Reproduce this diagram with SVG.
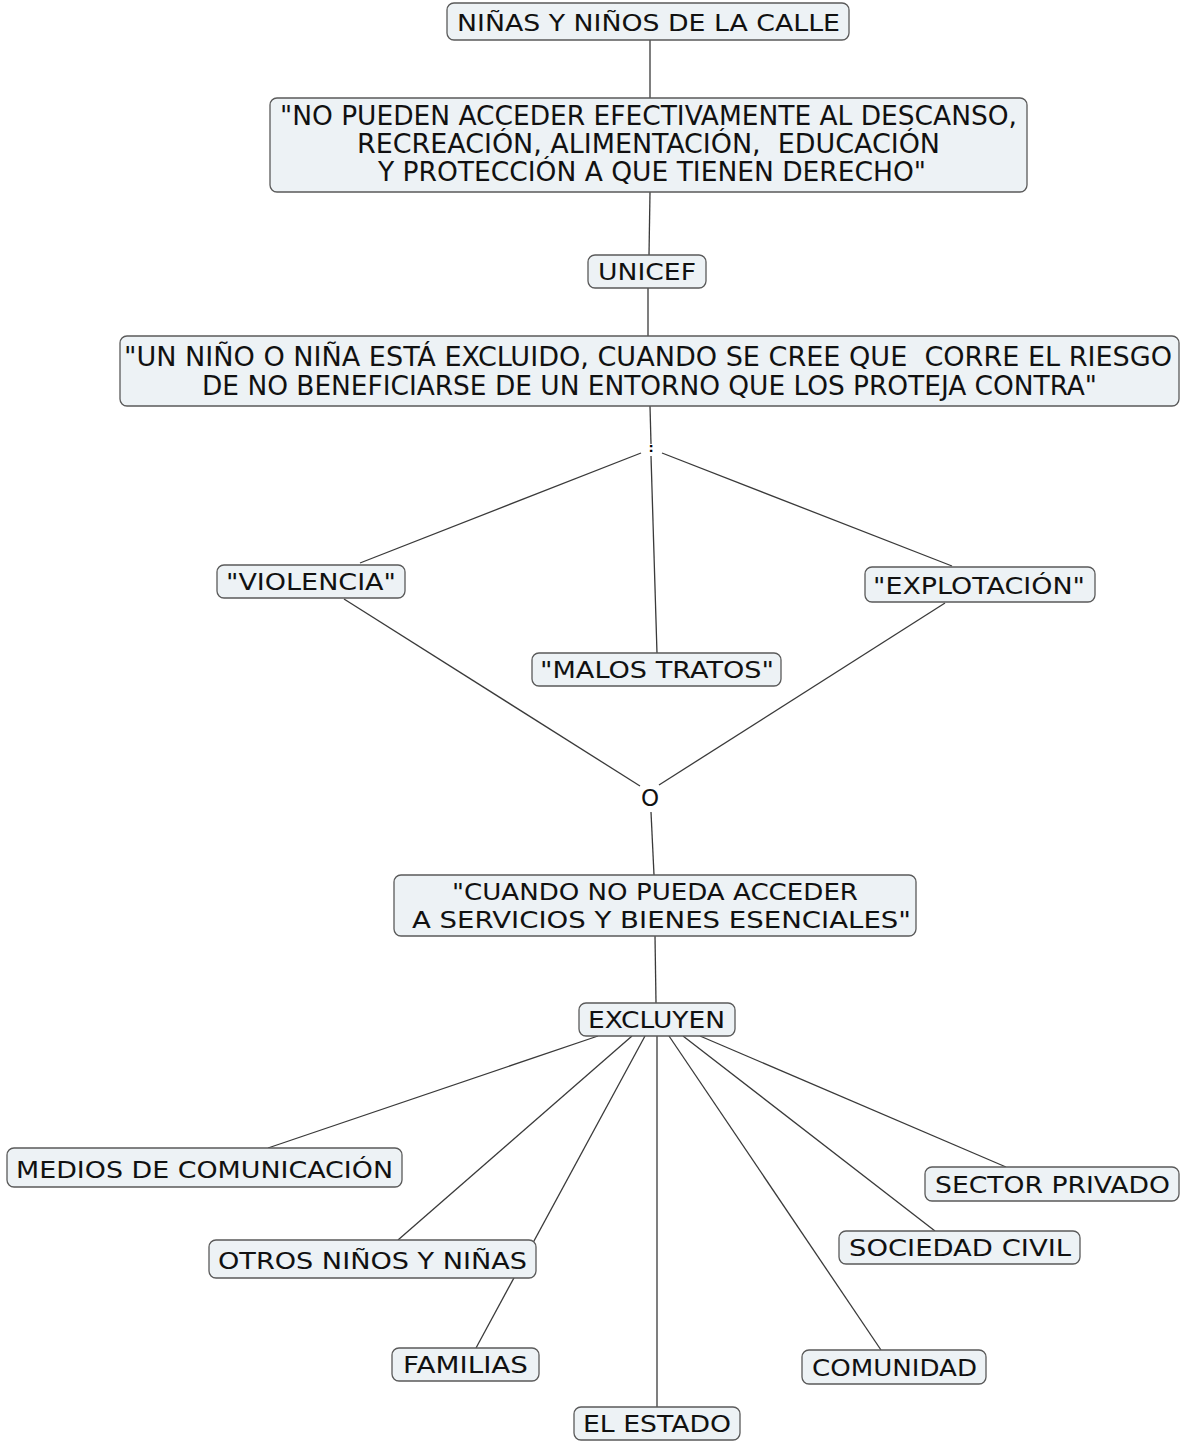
<svg xmlns="http://www.w3.org/2000/svg" width="1180" height="1441" viewBox="0 0 1180 1441">
  <style>
    .box { fill: #edf2f5; stroke: #5a5a5a; stroke-width: 1.3; }
    .t { font-family: "DejaVu Sans", Verdana, sans-serif; font-size: 23px; fill: #111; white-space: pre; }
    .tc { font-family: "DejaVu Sans Condensed", "DejaVu Sans", sans-serif; font-stretch: condensed; font-size: 27px; fill: #111; white-space: pre; }
    .links line { stroke: #3a3a3a; stroke-width: 1.3; }
  </style>

  <!-- connectors -->
  <g id="connectors" class="links">
    <line x1="650" y1="40" x2="650" y2="98"/>
    <line x1="650" y1="192" x2="649" y2="255"/>
    <line x1="648" y1="288" x2="648" y2="336"/>
    <line x1="650" y1="406" x2="651" y2="444"/>
    <line x1="641" y1="453" x2="360" y2="563"/>
    <line x1="662" y1="453" x2="952" y2="566"/>
    <line x1="651" y1="456" x2="657" y2="653"/>
    <line x1="344" y1="599" x2="640" y2="786"/>
    <line x1="945" y1="603" x2="659" y2="785"/>
    <line x1="651" y1="812" x2="654" y2="875"/>
    <line x1="655" y1="936" x2="656" y2="1003"/>
    <line x1="598" y1="1036" x2="268" y2="1148"/>
    <line x1="632" y1="1036" x2="398" y2="1240"/>
    <line x1="645" y1="1036" x2="476" y2="1348"/>
    <line x1="657" y1="1036" x2="657" y2="1407"/>
    <line x1="669" y1="1036" x2="881" y2="1350"/>
    <line x1="683" y1="1036" x2="935" y2="1231"/>
    <line x1="700" y1="1036" x2="1006" y2="1167"/>
  </g>

  <g id="n-ninos-calle">
    <rect class="box" x="447" y="3" width="402" height="37" rx="7"/>
    <text class="t" x="457" y="31" textLength="383" lengthAdjust="spacingAndGlyphs">NIÑAS Y NIÑOS DE LA CALLE</text>
  </g>

  <g id="n-no-pueden">
    <rect class="box" x="270" y="98" width="757" height="94" rx="7"/>
    <text class="tc" x="280" y="125" textLength="737" lengthAdjust="spacingAndGlyphs">"NO PUEDEN ACCEDER EFECTIVAMENTE AL DESCANSO,</text>
    <text class="tc" x="357" y="153" textLength="583" lengthAdjust="spacingAndGlyphs">RECREACIÓN, ALIMENTACIÓN,  EDUCACIÓN</text>
    <text class="tc" x="378" y="181" textLength="548" lengthAdjust="spacingAndGlyphs">Y PROTECCIÓN A QUE TIENEN DERECHO"</text>
  </g>

  <g id="n-unicef">
    <rect class="box" x="588" y="255" width="118" height="33" rx="7"/>
    <text class="t" x="598" y="280" textLength="98" lengthAdjust="spacingAndGlyphs">UNICEF</text>
  </g>

  <g id="n-excluido">
    <rect class="box" x="120" y="336" width="1059" height="70" rx="7"/>
    <text class="tc" x="124" y="366" textLength="1048" lengthAdjust="spacingAndGlyphs">"UN NIÑO O NIÑA ESTÁ EXCLUIDO, CUANDO SE CREE QUE  CORRE EL RIESGO</text>
    <text class="tc" x="202" y="395" textLength="895" lengthAdjust="spacingAndGlyphs">DE NO BENEFICIARSE DE UN ENTORNO QUE LOS PROTEJA CONTRA"</text>
  </g>

  <g id="n-colon">
    <text class="t" x="651" y="452" text-anchor="middle" style="font-size:13px;font-weight:bold;fill:#000">:</text>
  </g>

  <g id="n-violencia">
    <rect class="box" x="217" y="565" width="188" height="33" rx="7"/>
    <text class="t" x="226" y="590" textLength="170" lengthAdjust="spacingAndGlyphs">"VIOLENCIA"</text>
  </g>

  <g id="n-explotacion">
    <rect class="box" x="865" y="567" width="230" height="35" rx="7"/>
    <text class="t" x="873" y="594" textLength="212" lengthAdjust="spacingAndGlyphs">"EXPLOTACIÓN"</text>
  </g>

  <g id="n-malos-tratos">
    <rect class="box" x="532" y="653" width="249" height="33" rx="7"/>
    <text class="t" x="540" y="678" textLength="234" lengthAdjust="spacingAndGlyphs">"MALOS TRATOS"</text>
  </g>

  <g id="n-o">
    <text class="t" x="650" y="806" text-anchor="middle">O</text>
  </g>

  <g id="n-cuando">
    <rect class="box" x="394" y="875" width="522" height="61" rx="7"/>
    <text class="t" x="452" y="900" textLength="406" lengthAdjust="spacingAndGlyphs">"CUANDO NO PUEDA ACCEDER</text>
    <text class="t" x="412" y="928" textLength="499" lengthAdjust="spacingAndGlyphs">A SERVICIOS Y BIENES ESENCIALES"</text>
  </g>

  <g id="n-excluyen">
    <rect class="box" x="579" y="1003" width="156" height="33" rx="7"/>
    <text class="t" x="588" y="1028" textLength="137" lengthAdjust="spacingAndGlyphs">EXCLUYEN</text>
  </g>

  <g id="n-medios">
    <rect class="box" x="7" y="1148" width="395" height="39" rx="7"/>
    <text class="t" x="16" y="1178" textLength="377" lengthAdjust="spacingAndGlyphs">MEDIOS DE COMUNICACIÓN</text>
  </g>

  <g id="n-otros">
    <rect class="box" x="209" y="1240" width="327" height="38" rx="7"/>
    <text class="t" x="218" y="1269" textLength="309" lengthAdjust="spacingAndGlyphs">OTROS NIÑOS Y NIÑAS</text>
  </g>

  <g id="n-familias">
    <rect class="box" x="392" y="1348" width="147" height="33" rx="7"/>
    <text class="t" x="403" y="1373" textLength="125" lengthAdjust="spacingAndGlyphs">FAMILIAS</text>
  </g>

  <g id="n-estado">
    <rect class="box" x="574" y="1407" width="166" height="33" rx="7"/>
    <text class="t" x="583" y="1432" textLength="148" lengthAdjust="spacingAndGlyphs">EL ESTADO</text>
  </g>

  <g id="n-comunidad">
    <rect class="box" x="802" y="1350" width="184" height="34" rx="7"/>
    <text class="t" x="812" y="1376" textLength="165" lengthAdjust="spacingAndGlyphs">COMUNIDAD</text>
  </g>

  <g id="n-sociedad">
    <rect class="box" x="839" y="1231" width="241" height="33" rx="7"/>
    <text class="t" x="849" y="1256" textLength="222" lengthAdjust="spacingAndGlyphs">SOCIEDAD CIVIL</text>
  </g>

  <g id="n-sector">
    <rect class="box" x="925" y="1167" width="254" height="34" rx="7"/>
    <text class="t" x="935" y="1193" textLength="235" lengthAdjust="spacingAndGlyphs">SECTOR PRIVADO</text>
  </g>
</svg>
